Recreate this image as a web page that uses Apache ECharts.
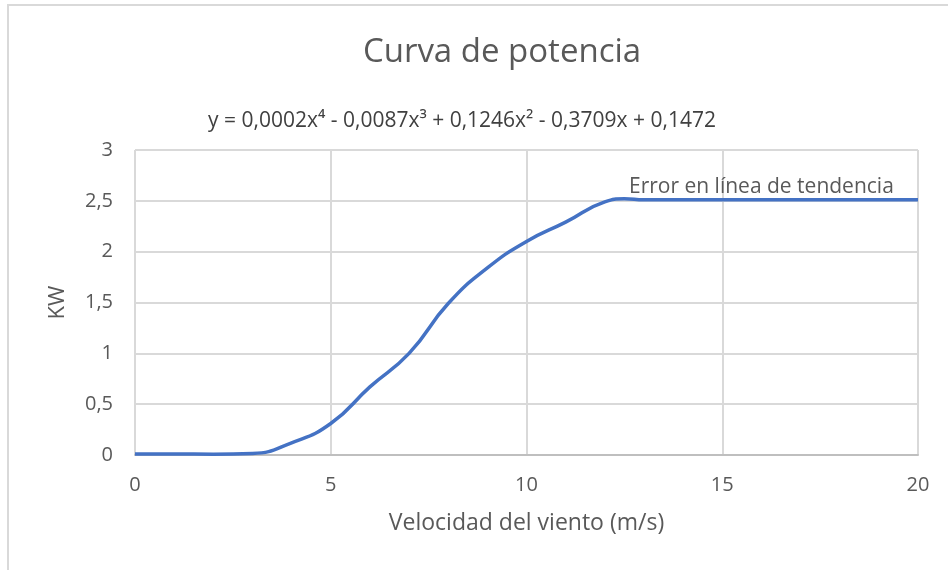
<!DOCTYPE html>
<html>
<head>
<meta charset="utf-8">
<script src="https://cdn.jsdelivr.net/npm/echarts@6/dist/echarts.min.js"></script>
<style>
  html, body { margin: 0; padding: 0; background: #ffffff; }
  #chart { width: 948px; height: 570px; }
</style>
</head>
<body>
<div id="chart"></div>
<script>
// Wind speed (m/s) and power output (kW)
const windSpeed = [0, 1, 2, 3, 4, 5, 6, 7, 8, 9, 10, 11, 12, 12.5, 13, 14, 15, 16, 17, 18, 19, 20];
const powerKW   = [0.01, 0.01, 0.008, 0.015, 0.12, 0.31, 0.67, 1.0, 1.49, 1.84, 2.1, 2.29, 2.49, 2.52, 2.51, 2.51, 2.51, 2.51, 2.51, 2.51, 2.51, 2.51];

const titleText = 'Curva de potencia';
const equationText = 'y = 0,0002x⁴ - 0,0087x³ + 0,1246x² - 0,3709x + 0,1472';
const xAxisName = 'Velocidad del viento (m/s)';
const yAxisName = 'KW';
const noteText = 'Error en línea de tendencia';
const notePoint = [16.0, 2.64];

const FONT = '"Open Sans", "Noto Sans", sans-serif';
const GREY_TEXT = '#595959';

const chart = echarts.init(document.getElementById('chart'));

chart.setOption({
  backgroundColor: '#ffffff',
  animation: false,
  textStyle: { fontFamily: FONT },
  title: [
    {
      text: titleText,
      left: 497,
      textAlign: 'center',
      top: 31,
      textStyle: { fontFamily: FONT, fontSize: 33, fontWeight: 'normal', color: GREY_TEXT }
    },
    {
      text: equationText,
      left: 457,
      textAlign: 'center',
      top: 106,
      textStyle: { fontFamily: FONT, fontSize: 21, fontWeight: 'normal', color: '#404040' }
    }
  ],
  graphic: [
    {
      type: 'rect',
      shape: { x: 8, y: 5, width: 950, height: 580 },
      style: { fill: 'none', stroke: '#d9d9d9', lineWidth: 2 },
      silent: true,
      z: -1
    }
  ],
  grid: { left: 135, right: 30, top: 150, bottom: 115 },
  xAxis: {
    type: 'value',
    min: 0,
    max: 20,
    interval: 5,
    name: xAxisName,
    nameLocation: 'middle',
    nameGap: 57,
    nameTextStyle: { fontFamily: FONT, fontSize: 23, color: GREY_TEXT },
    axisLine: { show: true, lineStyle: { color: '#bfbfbf', width: 2 } },
    axisTick: { show: false },
    axisLabel: { fontFamily: FONT, fontSize: 20, color: GREY_TEXT, margin: 20 },
    splitLine: { show: true, lineStyle: { color: '#d9d9d9', width: 2 } }
  },
  yAxis: {
    type: 'value',
    min: 0,
    max: 3,
    interval: 0.5,
    name: yAxisName,
    nameLocation: 'middle',
    nameGap: 66,
    nameRotate: 90,
    nameTextStyle: { fontFamily: FONT, fontSize: 22, color: GREY_TEXT },
    axisLine: { show: false },
    axisTick: { show: false },
    axisLabel: {
      fontFamily: FONT, fontSize: 20, color: GREY_TEXT, margin: 22,
      formatter: v => String(v).replace('.', ',')
    },
    splitLine: { show: true, lineStyle: { color: '#d9d9d9', width: 2 } }
  },
  series: [
    {
      type: 'line',
      data: windSpeed.map((x, i) => [x, powerKW[i]]),
      smooth: 0.5,
      symbol: 'none',
      lineStyle: { color: '#4472c4', width: 3.5 },
      markPoint: {
        symbol: 'circle',
        symbolSize: 0,
        silent: true,
        label: {
          show: true,
          position: 'inside',
          formatter: noteText,
          fontFamily: FONT,
          fontSize: 21,
          color: GREY_TEXT
        },
        data: [{ coord: notePoint }]
      }
    }
  ]
});
</script>
</body>
</html>
